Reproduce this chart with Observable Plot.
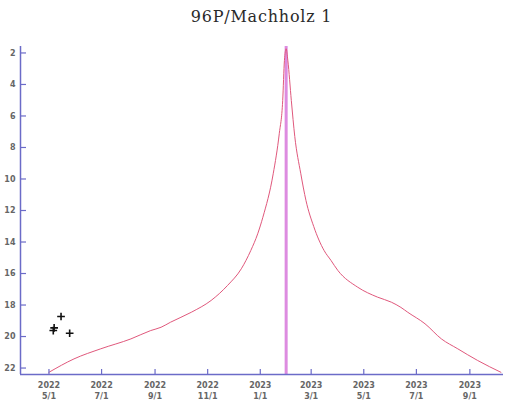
<!DOCTYPE html>
<html>
<head>
<meta charset="utf-8">
<script src="https://cdn.jsdelivr.net/npm/d3@7"></script>
<script src="https://cdn.jsdelivr.net/npm/@observablehq/plot@0.6"></script>
<style>
  html, body { margin: 0; padding: 0; background: #fff; }
  #title { height: 30px; width: 505px; font-family: "DejaVu Serif", serif; font-size: 16px; letter-spacing: 0.8px; color: #2a2a2a; box-sizing: border-box; padding-left: 20px; padding-right: 2px; text-align: center; line-height: 34px; }
</style>
</head>
<body>
<div id="title">96P/Machholz 1</div>
<div id="chart"></div>
<script>
const curveDates = ["2022-05-01","2022-05-30","2022-06-30","2022-08-04","2022-08-27","2022-09-08","2022-09-19","2022-10-13","2022-11-05","2022-11-24","2022-12-10","2022-12-21","2022-12-29","2023-01-04","2023-01-16","2023-01-23","2023-01-27","2023-01-29","2023-01-31","2023-02-02","2023-02-06","2023-02-10","2023-02-17","2023-02-23","2023-03-04","2023-03-16","2023-03-24","2023-04-01","2023-04-24","2023-05-17","2023-06-02","2023-06-13","2023-06-21","2023-07-11","2023-07-30","2023-08-18","2023-09-10","2023-10-07"];
const curveMags = [22.27,21.42,20.78,20.15,19.62,19.41,19.09,18.46,17.71,16.76,15.70,14.54,13.48,12.43,9.67,7.13,5.02,2.48,1.73,2.5,5.02,7.3,9.67,11.37,13.02,14.54,15.17,15.81,16.87,17.50,17.82,18.15,18.46,19.19,20.15,20.78,21.52,22.27];
const obsDates = ["2022-05-06","2022-05-07","2022-05-15","2022-05-25"];
const obsMags = [19.62,19.45,18.73,19.79];
const perihelion = "2023-01-31";
const xTickDates = ["2022-05-01","2022-07-01","2022-09-01","2022-11-01","2023-01-01","2023-03-01","2023-05-01","2023-07-01","2023-09-01"];
const yTicks = [2,4,6,8,10,12,14,16,18,20,22];
const xDomain = ["2022-03-29","2023-10-10"];
const yDomain = [22.41, 1.59];

const curve = curveDates.map((d, i) => ({date: new Date(d), mag: curveMags[i]}));
const obs = obsDates.map((d, i) => ({date: new Date(d), mag: obsMags[i]}));
const xTicks = xTickDates.map(d => new Date(d));
const axisColor = "#6b6bc8";
const labelStyle = {fill: "#666", fontWeight: "bold", label: null};

const chart = Plot.plot({
  width: 505,
  height: 373,
  marginTop: 16,
  marginBottom: 29,
  marginLeft: 20,
  marginRight: 2,
  style: {fontFamily: "DejaVu Sans", fontSize: "8px", background: "#fff"},
  x: {type: "utc", domain: xDomain.map(d => new Date(d))},
  y: {domain: yDomain},
  marks: [
    Plot.ruleX([new Date(perihelion)], {stroke: "#dd8ce0", strokeWidth: 3}),
    Plot.line(curve, {x: "date", y: "mag", stroke: "#e0587c", strokeWidth: 1, curve: "monotone-x"}),
    Plot.dot(obs, {x: "date", y: "mag", symbol: "plus", r: 2.6, stroke: "#111", strokeWidth: 1.6}),
    // inward tick marks
    Plot.axisX({ticks: xTicks, tickSize: 5, dy: -5, stroke: axisColor, strokeWidth: 1.2, tickFormat: () => "", label: null}),
    Plot.axisY({ticks: yTicks, tickSize: 6, dx: 6, stroke: axisColor, strokeWidth: 1.2, tickFormat: () => "", label: null}),
    // tick labels
    Plot.axisX({ticks: xTicks, tickSize: 0, tickPadding: 5, lineHeight: 1.45, ...labelStyle,
      tickFormat: d => `${d.getUTCFullYear()}\n${d.getUTCMonth() + 1}/${d.getUTCDate()}`}),
    Plot.axisY({ticks: yTicks, tickSize: 0, tickPadding: 5, ...labelStyle}),
    Plot.ruleY([yDomain[0]], {stroke: axisColor, strokeWidth: 1.5}),
    Plot.ruleX([new Date(xDomain[0])], {stroke: axisColor, strokeWidth: 1.5})
  ]
});
document.getElementById("chart").appendChild(chart);
</script>
</body>
</html>
